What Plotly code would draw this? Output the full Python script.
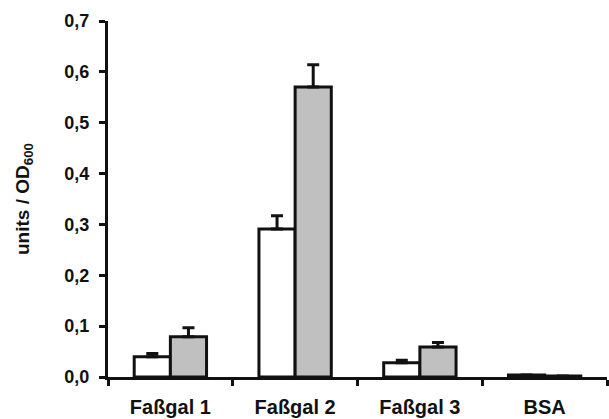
import plotly.graph_objects as go

categories = ["Faßgal 1", "Faßgal 2", "Faßgal 3", "BSA"]
white_vals = [0.040, 0.291, 0.028, 0.004]
white_err = [0.006, 0.026, 0.005, 0.0]
gray_vals = [0.079, 0.570, 0.059, 0.002]
gray_err = [0.018, 0.044, 0.009, 0.0]
y_ticks = [0.0, 0.1, 0.2, 0.3, 0.4, 0.5, 0.6, 0.7]

FONT = "Arial, Liberation Sans, sans-serif"
INK = "#111111"

fig = go.Figure()
fig.add_trace(go.Bar(
    x=categories, y=white_vals, name="white",
    marker=dict(color="#ffffff", line=dict(color=INK, width=3)),
    error_y=dict(type="data", array=white_err, arrayminus=[0] * 4, symmetric=False,
                 color=INK, thickness=3, width=6),
))
fig.add_trace(go.Bar(
    x=categories, y=gray_vals, name="gray",
    marker=dict(color="#c0c0c0", line=dict(color=INK, width=3)),
    error_y=dict(type="data", array=gray_err, arrayminus=[0] * 4, symmetric=False,
                 color=INK, thickness=3, width=6),
))

fig.update_layout(
    width=609, height=419,
    margin=dict(l=108, r=2, t=21, b=42),
    paper_bgcolor="white", plot_bgcolor="white",
    barmode="group", bargap=0.42, bargroupgap=0,
    showlegend=False,
    separators=",.",
    font=dict(family=FONT, color=INK),
)
fig.update_xaxes(
    type="category", range=[-0.5, 3.5],
    showline=True, linecolor=INK, linewidth=3,
    ticks="outside", tickson="boundaries", ticklen=6, tickwidth=3, tickcolor=INK,
    tickfont=dict(family=FONT, size=20, color=INK, weight="bold"),
    ticklabelstandoff=10,
    showgrid=False, zeroline=False,
)
fig.update_yaxes(
    range=[0, 0.7], tickvals=y_ticks, tickformat=".1f",
    showline=True, linecolor=INK, linewidth=3,
    ticks="outside", ticklen=6, tickwidth=3, tickcolor=INK,
    tickfont=dict(family=FONT, size=18, color=INK, weight="bold"),
    ticklabelstandoff=6,
    showgrid=False, zeroline=False,
)
fig.add_annotation(
    text="units / OD<sub>600</sub>", textangle=-90,
    xref="paper", yref="paper", x=0, y=0.5, xshift=-84,
    xanchor="center", yanchor="middle", showarrow=False,
    font=dict(family=FONT, size=19, color=INK, weight="bold"),
)

fig.write_html(
    "out.html",
    config={"displayModeBar": False},
    post_script="document.body.style.margin='0';document.body.style.overflow='hidden';",
)
